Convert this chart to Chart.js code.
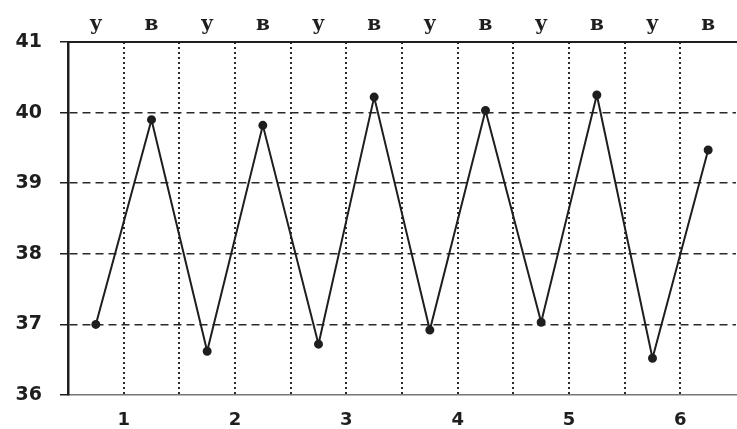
<!DOCTYPE html>
<html>
<head>
<meta charset="utf-8">
<script src="https://cdn.jsdelivr.net/npm/chart.js@4/dist/chart.umd.min.js"></script>
<style>
  html, body { margin: 0; padding: 0; background: #fff; overflow: hidden; }
  #wrap { width: 737px; height: 429px; overflow: hidden; position: relative; }
  canvas { display: block; }
</style>
</head>
<body>
<div id="wrap"><canvas id="c" width="742" height="429"></canvas></div>
<script>
// Half-day slots: у = утро (morning), в = вечер (evening)
const slots = ['у', 'в', 'у', 'в', 'у', 'в', 'у', 'в', 'у', 'в', 'у', 'в'];
// Temperature readings (°C)
const temps = [37.0, 39.9, 36.62, 39.82, 36.72, 40.22, 36.92, 40.03, 37.03, 40.25, 36.52, 39.47];
// Day numbers along the bottom
const dayLabels = ['1', '2', '3', '4', '5', '6'];
// Y axis range
const yMin = 36, yMax = 41;

const ink = '#1e1e1e';
const noSidePad = s => { s.paddingLeft = 0; s.paddingRight = 0; };

new Chart(document.getElementById('c'), {
  type: 'line',
  data: {
    labels: slots,
    datasets: [{
      data: temps,
      xAxisID: 'x',
      yAxisID: 'y',
      borderColor: ink,
      borderWidth: 2,
      pointRadius: 3.5,
      pointBackgroundColor: ink,
      pointBorderColor: ink,
      tension: 0
    }]
  },
  options: {
    responsive: false,
    animation: false,
    events: [],
    layout: { padding: { left: 0, right: 3, top: 0, bottom: 0 } },
    plugins: { legend: { display: false }, tooltip: { enabled: false } },
    scales: {
      x: {
        type: 'category',
        position: 'top',
        offset: true,
        grid: { display: false, drawTicks: false },
        border: { display: true, color: ink, width: 2 },
        ticks: {
          color: ink,
          padding: 5,
          font: { family: 'DejaVu Serif', weight: 'bold', size: 20 },
          maxRotation: 0,
          autoSkip: false
        },
        afterFit: s => { s.height = 42; noSidePad(s); }
      },
      x2: {
        type: 'linear',
        position: 'bottom',
        min: 0,
        max: 12,
        grid: {
          drawTicks: false,
          color: ctx => (ctx.tick && ctx.tick.value > 0 && ctx.tick.value < 12) ? '#2a2a2a' : 'rgba(0,0,0,0)',
          lineWidth: 2
        },
        border: { display: true, color: '#777', width: 1.5, dash: [2, 3] },
        ticks: {
          stepSize: 1,
          autoSkip: false,
          maxRotation: 0,
          padding: 15,
          color: ink,
          font: { family: 'DejaVu Sans', weight: 'bold', size: 18 },
          callback: v => (v % 2 === 1) ? dayLabels[(v - 1) / 2] : ''
        },
        afterFit: s => { s.height = 34; noSidePad(s); }
      },
      y: {
        type: 'linear',
        position: 'left',
        min: yMin,
        max: yMax,
        grid: {
          drawTicks: true,
          tickLength: 8,
          tickColor: ink,
          tickWidth: 1.5,
          color: ctx => (ctx.tick && (ctx.tick.value === yMin || ctx.tick.value === yMax)) ? 'rgba(0,0,0,0)' : '#2a2a2a',
          lineWidth: 1.5
        },
        border: { display: true, color: ink, width: 2.5, dash: [8, 5] },
        ticks: {
          stepSize: 1,
          padding: 18,
          color: ink,
          font: { family: 'DejaVu Sans', weight: 'bold', size: 19 }
        },
        afterFit: s => { s.width = 68; }
      }
    }
  }
});
</script>
</body>
</html>
